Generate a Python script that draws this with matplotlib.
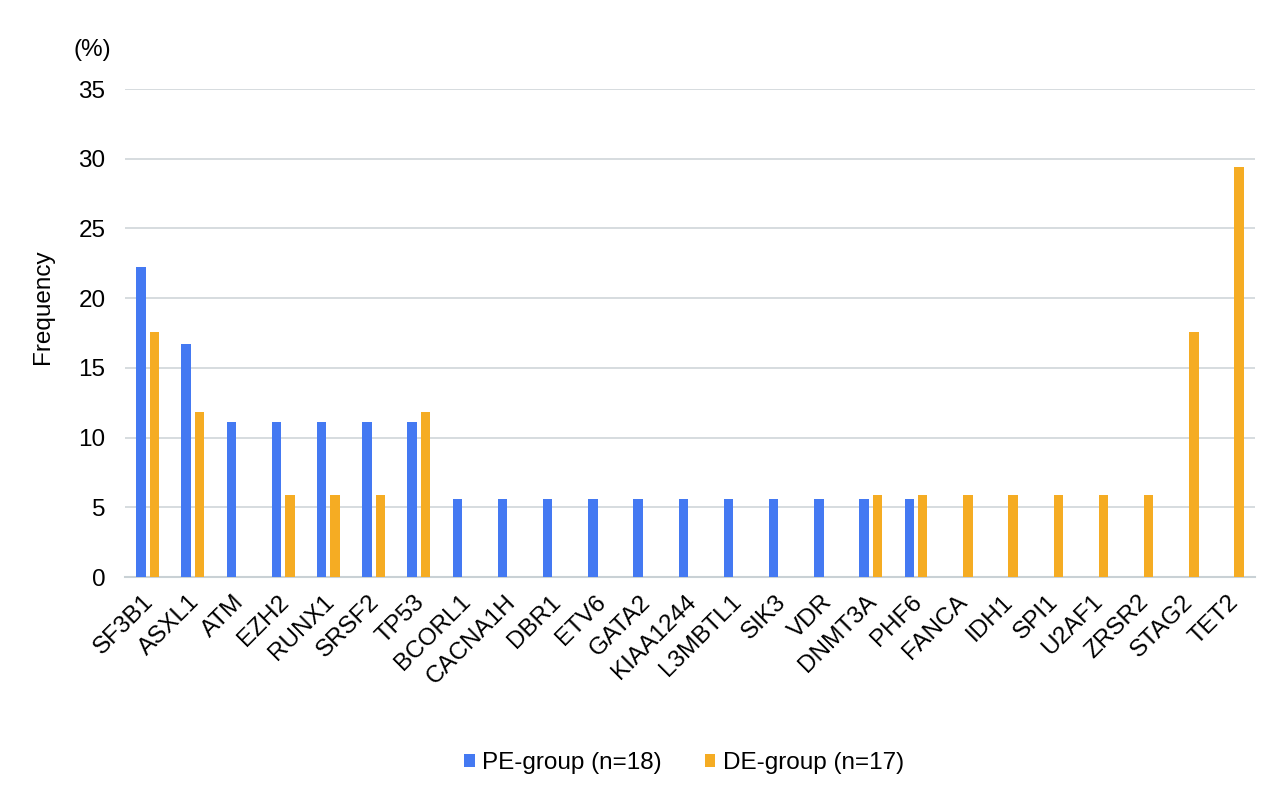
import matplotlib
matplotlib.use("Agg")
import matplotlib.pyplot as plt
import matplotlib.patches as mpatches
import matplotlib.transforms as mtransforms
from matplotlib.legend_handler import HandlerPatch
import numpy as np

plt.rcParams['font.family'] = ['Liberation Sans', 'DejaVu Sans']

genes = ["SF3B1", "ASXL1", "ATM", "EZH2", "RUNX1", "SRSF2", "TP53", "BCORL1",
         "CACNA1H", "DBR1", "ETV6", "GATA2", "KIAA1244", "L3MBTL1", "SIK3", "VDR",
         "DNMT3A", "PHF6", "FANCA", "IDH1", "SPI1", "U2AF1", "ZRSR2", "STAG2", "TET2"]
pe_group = [22.2, 16.7, 11.1, 11.1, 11.1, 11.1, 11.1, 5.6, 5.6, 5.6, 5.6, 5.6, 5.6,
            5.6, 5.6, 5.6, 5.6, 5.6, 0, 0, 0, 0, 0, 0, 0]
de_group = [17.6, 11.8, 0, 5.9, 5.9, 5.9, 11.8, 0, 0, 0, 0, 0, 0, 0, 0, 0,
            5.9, 5.9, 5.9, 5.9, 5.9, 5.9, 5.9, 17.6, 29.4]
yticks = [0, 5, 10, 15, 20, 25, 30, 35]

blue = "#4479F2"
orange = "#F5AC23"
fs = 17.5

fig = plt.figure(figsize=(12.8, 7.91), dpi=100)
ax = fig.add_axes([125/1280, 1-577/791, 1130/1280, 488/791])

x = np.arange(len(genes))
w = 0.206
off = 0.148
ax.bar(x - off, pe_group, width=w, color=blue, label="PE-group (n=18)", zorder=3)
ax.bar(x + off, de_group, width=w, color=orange, label="DE-group (n=17)", zorder=3)

ax.set_xlim(-0.5, len(genes) - 0.5)
ax.set_ylim(0, 35)
ax.set_yticks(yticks)
ax.set_yticklabels([str(t) for t in yticks], fontsize=fs)
ax.yaxis.grid(True, color="#D3D9DC", linewidth=1.3, zorder=0)
ax.set_axisbelow(True)
for s in ["top", "right", "left"]:
    ax.spines[s].set_visible(False)
ax.spines["bottom"].set_color("#C9D1D5")
ax.spines["bottom"].set_linewidth(1.5)
ax.tick_params(axis="y", length=0, pad=14)
ax.tick_params(axis="x", length=0, pad=10)
ax.set_xticks(x)
ax.set_xticklabels(genes, rotation=45, ha="right", rotation_mode="anchor", fontsize=fs)
shift = mtransforms.ScaledTranslation(-5/100, 0, fig.dpi_scale_trans)
for lab in ax.get_xticklabels():
    lab.set_transform(lab.get_transform() + shift)

ax.set_ylabel("Frequency", fontsize=fs)
ax.yaxis.set_label_coords((54 - 125) / 1130, (791 - 307 - 214) / 488)
fig.text(92/1280, 1-50/791, "(%)", fontsize=fs, ha="center", va="center")


def low_patch(legend, orig_handle, xdescent, ydescent, width, height, fontsize):
    return mpatches.Rectangle((-xdescent, -ydescent - 4), width, height)


leg = fig.legend(loc="center", bbox_to_anchor=(684/1280, 1-763/791), ncol=2,
                 frameon=False, fontsize=fs, handlelength=0.45, handleheight=0.45,
                 handletextpad=0.3, columnspacing=1.75,
                 handler_map={mpatches.Rectangle: HandlerPatch(patch_func=low_patch)})

fig.savefig("out.png", dpi=100)
